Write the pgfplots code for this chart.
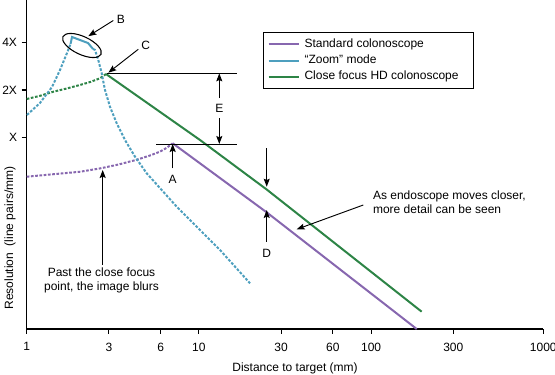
\documentclass[border=0pt]{standalone}
\usepackage{fontspec}
\setmainfont{Liberation Sans}
\usepackage{pgfplots}
\pgfplotsset{compat=1.18}
\usetikzlibrary{arrows.meta,shapes.geometric}
\definecolor{cpurple}{RGB}{135,103,175}
\definecolor{ccyan}{RGB}{77,159,190}
\definecolor{cgreen}{RGB}{45,132,70}
\begin{document}
\begin{tikzpicture}[>={Stealth[length=6pt,width=4.5pt,inset=1pt]}, ann/.style={line width=0.7pt}]
\begin{axis}[
  scale only axis, width=387.45pt, height=246.75pt,
  xmode=log, xmin=1, xmax=1000, ymin=0, ymax=6.883,
  axis x line*=bottom, axis y line*=left,
  axis line style={line width=1.1pt},
  xtick={1,3,6,10,30,60,100,300,1000},
  xticklabels={1,3,6,10,30,60,100,300,1000},
  xminorticks=false, minor tick num=0,
  ytick={4,5,6}, yticklabels={X,2X,4X},
  tick align=outside, major tick length=3.75pt,
  tick style={line width=0.8pt, black},
  font=\fontsize{9}{10.5}\selectfont,
  xticklabel style={yshift=-3pt},
  /pgf/number format/assume math mode=true,
  clip=false,
  legend image code/.code={\draw[#1,line width=1.5pt,solid] (0pt,0pt) -- (22.5pt,0pt);},
  legend cell align=left,
  legend style={at={(rel axis cs:0.4574,0.9036)}, anchor=north west,
    draw=black, line width=0.8pt, inner xsep=3pt, inner ysep=4.7pt,
    font=\fontsize{9}{10.5}\selectfont,
    nodes={inner sep=0pt, text height=6.5pt, text depth=2pt},
    row sep=3.8pt,
    /tikz/every odd column/.append style={column sep=3.75pt}},
  dsh/.style={line width=1.5pt, dash pattern=on 2pt off 1.2pt},
  sld/.style={line width=1.5pt},
]
% solid parts (legend)
\addplot[cpurple, sld] coordinates {(7.046,3.885) (24.76,2.44) (184.0,0)};
\addlegendentry{Standard colonoscope}
\addplot[ccyan, sld] coordinates {(1.797,5.962) (1.833,6.109) (2.270,5.983) (2.427,5.858)};
\addlegendentry{``Zoom'' mode}
\addplot[cgreen, sld] coordinates {(2.887,5.335) (10.15,3.954) (24.76,2.918) (196.7,0.362)};
\addlegendentry{Close focus HD colonoscope\hspace*{8pt}}
% dashed parts
\addplot[cpurple, dsh, forget plot] coordinates {(1,3.186) (1.4,3.235) (2.04,3.29) (2.67,3.36) (3.4,3.44) (4.35,3.54) (5.2,3.63) (5.94,3.71) (6.5,3.79) (7.046,3.885)};
\addplot[cgreen, dsh, forget plot] coordinates {(1,4.812) (1.2,4.88) (1.427,4.964) (1.7,5.03) (2.039,5.105) (2.35,5.17) (2.665,5.245) (2.887,5.335)};
\addplot[ccyan, dsh, forget plot] coordinates {(1.004,4.477) (1.194,4.728) (1.403,5.063) (1.561,5.418) (1.714,5.774) (1.797,5.962)};
\addplot[ccyan, dsh, forget plot] coordinates {(2.427,5.858) (2.493,5.837) (2.605,5.628) (2.726,5.349) (2.849,5.000) (3.045,4.651) (3.332,4.303) (3.723,3.954) (4.255,3.605) (4.977,3.257) (6.081,2.908) (7.431,2.559) (8.878,2.280) (13.26,1.653) (19.81,0.956)};
% annotations
\node[draw, line width=0.8pt, ellipse, minimum width=31.5pt, minimum height=13.5pt, inner sep=0pt, rotate=-25] at (rel axis cs:0.1070,0.8617) {};
\draw[ann,->] (rel axis cs:0.1676,0.9377) -- (rel axis cs:0.1192,0.8900);
\node at (rel axis cs:0.1825,0.9407) {B};
\draw[ann,->] (rel axis cs:0.2160,0.8502) -- (rel axis cs:0.1580,0.7790);
\node at (rel axis cs:0.2303,0.8632) {C};
\draw[ann] (rel axis cs:0.1549,0.7771) -- (rel axis cs:0.4065,0.7771);
\draw[ann] (rel axis cs:0.2503,0.5623) -- (rel axis cs:0.4065,0.5623);
\draw[ann,->] (rel axis cs:0.3728,0.7021) -- (rel axis cs:0.3728,0.7771);
\draw[ann,->] (rel axis cs:0.3728,0.6413) -- (rel axis cs:0.3728,0.5623);
\node at (rel axis cs:0.3728,0.6717) {E};
\draw[ann,->] (rel axis cs:0.2826,0.4884) -- (rel axis cs:0.2826,0.5623);
\node at (rel axis cs:0.2826,0.4550) {A};
\draw[ann,->] (rel axis cs:0.1471,0.1945) -- (rel axis cs:0.1471,0.4833);
\node[align=center] at (rel axis cs:0.1448,0.1489) {Past the close focus\\point, the image blurs};
\draw[ann,->] (rel axis cs:0.4646,0.5492) -- (rel axis cs:0.4646,0.4325);
\draw[ann,->] (rel axis cs:0.4646,0.2653) -- (rel axis cs:0.4646,0.3617);
\node at (rel axis cs:0.4646,0.2301) {D};
\draw[ann,->] (rel axis cs:0.6516,0.3769) -- (rel axis cs:0.5226,0.3030);
\node[align=left, anchor=west] at (rel axis cs:0.6613,0.3860) {As endoscope moves closer,\\more detail can be seen};
\node[rotate=90] at (rel axis cs:-0.0323,0.2766) {Resolution~~(line pairs/mm)};
\node at (rel axis cs:0.5194,-0.1185) {Distance to target (mm)};
\end{axis}
\pgfresetboundingbox
\useasboundingbox (-20.03pt,-34.5pt) rectangle (396.23pt,246.75pt);
\end{tikzpicture}
\end{document}
